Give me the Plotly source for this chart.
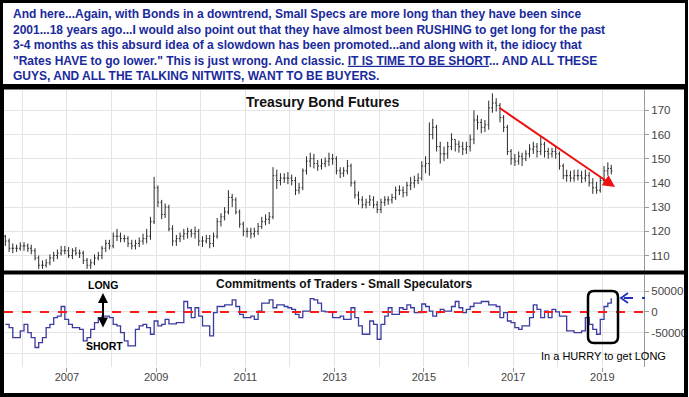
import pandas as pd
import plotly.graph_objects as go

W, H = 689, 397

# ---- data (monthly, Aug 2005 .. Mar 2019) ----
months = pd.date_range("2005-08-01", periods=164, freq="MS") + pd.Timedelta(days=14)

bond_open = [118,116,113,113,113,
    114,114,113,112,109,106,106,107,109,110,111,112,
    112,110,112,111,111,108,106,107,109,110,113,115,
    114,118,118,117,117,115,114,115,116,117,118,124,
    138,132,127,130,121,116,117,118,119,120,119,120,
    116,116,117,115,118,124,126,128,134,133,128,123,
    120,120,119,120,122,124,125,126,143,141,142,142,
    142,141,137,138,145,149,150,148,147,148,149,150,
    150,145,144,145,147,140,135,133,131,132,133,131,
    129,132,133,133,134,137,137,136,139,140,141,142,
    147,148,160,163,155,152,152,155,158,156,155,154,
    155,158,166,165,163,164,171,173,172,167,163,153,
    150,149,151,150,152,154,155,153,156,153,152,153,
    152,147,143,143,142,143,143,142,143,140,138,137,
    141,145,146]
bond_high = [118.5,117,115,114.5,115.5,
    115.5,115,114.5,113,110,108,108.5,110.5,111.5,112.5,114,114,
    113.5,113,113.5,112.5,112,109,108.5,110.5,111.5,114,116.5,116.5,
    119.5,121,119.5,118.5,118,116.5,116.5,117.5,119,121,126,142.5,
    139,133,131.5,131,122.5,118.5,119.5,121,121.5,121,122,121,
    118,118.5,118.5,119.5,125.5,127.5,130,137,135.5,134,129,124,
    121.5,121.5,121.5,123.5,126,127,128,146.5,145.5,144,144,144.5,
    143.5,142.5,140,146,151,152.5,152,149.5,150,150.5,152.5,152,
    151,146.5,146.5,149.5,148,141,136.5,134.5,133.5,135,134.5,132.5,
    133.5,134.5,134.5,135.5,138.5,139,138.5,140.5,142.5,143,144,149,
    151,165,166.5,164,157,155,157,160.5,158,157.5,157,157,
    160,170,168,166.5,166,174,177,175,173,168,164,154,
    152,153,152.5,153.5,156,157,156.5,159,157,154.5,154.5,155,
    153,148,145.5,145,145.5,145.5,145,145.5,144.5,142,140.5,142.5,
    147,148.5,147.5]
bond_low = [114,111.5,111,111.5,112,
    112,111.5,110.5,108,104.5,104.5,105,106,107.5,108.5,110,110.5,
    109,108.5,110,109,106.5,104.5,104.5,106,108,108.5,111.5,112.5,
    113,116,115.5,115.5,113.5,112.5,112.5,113.5,114.5,115,116.5,123,
    130,125,125.5,120,114,114,115.5,116.5,117,117.5,117,114,
    113.5,115,113,113.5,117,122,124.5,127,130,127,121.5,118,
    117.5,117,117.5,118.5,121,122.5,123,125,137.5,139,140,139.5,
    139,135,135.5,137,143.5,146.5,146,145,145.5,146.5,147,147.5,
    143.5,142,142.5,143.5,138.5,133.5,131,129.5,129.5,130.5,129.5,127.5,
    127.5,130.5,131,131.5,133,135,134,134.5,137,138,139.5,141,
    144,143,158,153,148,149,150,153.5,153,152.5,151.5,152,
    153,156,162,160.5,161,162,169,169.5,165,161,151.5,147.5,
    147,147.5,147,149,150.5,152,150.5,151.5,150.5,150,150.5,150,
    145.5,141.5,140.5,140.5,140.5,141,140,140.5,138.5,135.5,135.5,136,
    140,143,143.5]
bond_close = [116,113,113,113,114,
    114,113,112,109,106,106,107,109,110,111,112,112,
    110,112,111,111,108,106,107,109,110,113,115,114,
    118,118,117,117,115,114,115,116,117,118,124,138,
    132,127,130,121,116,117,118,119,120,119,120,116,
    116,117,115,118,124,126,128,134,133,128,123,120,
    120,119,120,122,124,125,126,143,141,142,142,142,
    141,137,138,145,149,150,148,147,148,149,150,150,
    145,144,145,147,140,135,133,131,132,133,131,129,
    132,133,133,134,137,137,136,139,140,141,142,147,
    148,160,163,155,152,152,155,158,156,155,154,155,
    158,166,165,163,164,171,173,172,167,163,153,150,
    149,151,150,152,154,155,153,156,153,152,153,152,
    147,143,143,142,143,143,142,143,140,138,137,141,
    145,146,145]

small_spec_net = [-30000,-38000,-62000,-62000,-46000,
    -30000,-50000,-62000,-86000,-74000,-62000,-38000,-30000,-14000,-10000,13000,-18000,
    -30000,-38000,-38000,-42000,-70000,-62000,-42000,-26000,-14000,-10000,-10000,-14000,
    -30000,-34000,-50000,-70000,-82000,-82000,-42000,-34000,-30000,-38000,-54000,-22000,
    -34000,-30000,-18000,-29000,-29000,-26000,-26000,25000,10000,-14000,10000,-10000,
    -34000,-34000,-58000,-2000,13000,13000,17000,17000,29000,13000,-6000,-14000,
    -14000,-10000,-18000,2000,21000,21000,29000,10000,17000,17000,13000,10000,
    6000,-6000,-14000,2000,2000,32000,29000,21000,2000,0,0,-14000,
    -14000,-10000,-18000,-18000,10000,-14000,-34000,-54000,-54000,-22000,-30000,-66000,
    -30000,-10000,10000,-6000,-6000,10000,6000,17000,10000,-2000,-2000,19000,
    13000,2000,-10000,-2000,6000,2000,2000,13000,25000,10000,-2000,6000,
    13000,21000,21000,25000,25000,17000,17000,13000,-14000,-2000,-22000,-26000,
    -38000,-42000,-34000,-34000,-14000,17000,6000,-14000,2000,-14000,6000,0,
    -10000,-10000,-46000,-46000,-50000,-50000,-46000,-14000,-30000,-42000,-54000,-18000,
    13000,21000,33000]

price_ticks = [110, 120, 130, 140, 150, 160, 170]
cot_ticks = [-100000, -50000, 0, 50000]
cot_ticktext = ["", "-50000", "0", "50000"]

comment_lines = [
    "And here...Again, with Bonds in a downtrend, Small Specs are more long than they have been since",
    "2001...18 years ago...I would also point out that they have almost been RUSHING to get long for the past",
    "3-4 months as this absurd idea of a slowdown has been promoted...and along with it, the idiocy that",
    "\"Rates HAVE to go lower.\" This is just wrong. And classic. <u>IT IS TIME TO BE SHORT</u>... AND ALL THESE",
    "GUYS, AND ALL THE TALKING NITWITS, WANT TO BE BUYERS.",
]

FONT = "Liberation Sans, Arial, sans-serif"
GRID = "#e4e4e4"


def px(x):
    return x / W


def py(y):
    return 1 - y / H


fig = go.Figure()
fig.add_trace(go.Ohlc(
    x=months, open=bond_open, high=bond_high, low=bond_low, close=bond_close,
    increasing=dict(line=dict(color="#2a2a2a", width=1)),
    decreasing=dict(line=dict(color="#2a2a2a", width=1)),
    tickwidth=0.35, xaxis="x", yaxis="y", showlegend=False, hoverinfo="skip"))
fig.add_trace(go.Scatter(
    x=months, y=small_spec_net, mode="lines",
    line=dict(shape="hv", color="#3a3aa0", width=1.3),
    xaxis="x2", yaxis="y2", showlegend=False, hoverinfo="skip"))

xr = ["2005-08-04", "2019-12-08"]
xdom = [px(4), px(644)]

fig.update_layout(
    width=W, height=H, margin=dict(l=0, r=0, t=0, b=0),
    paper_bgcolor="white", plot_bgcolor="white",
    font=dict(family=FONT, color="#333"),
    xaxis=dict(domain=xdom, range=xr, anchor="y", type="date",
               dtick="M12", tick0="2006-01-01", showticklabels=False,
               showgrid=True, gridcolor=GRID, gridwidth=1, ticks="",
               rangeslider=dict(visible=False), zeroline=False, showline=False),
    yaxis=dict(domain=[py(272), py(90)], range=[103.2, 178.4], side="right",
               tickvals=price_ticks, showgrid=True, gridcolor=GRID,
               showline=True, linecolor="#999", linewidth=1,
               ticks="outside", ticklen=4, tickcolor="#999",
               tickfont=dict(size=11.5, color="#444"), zeroline=False),
    xaxis2=dict(domain=xdom, range=xr, anchor="y2", type="date",
                dtick="M24", tick0="2007-01-01", tickformat="%Y",
                showgrid=True, gridcolor=GRID,
                minor=dict(dtick="M12", showgrid=True, gridcolor=GRID, ticks=""),
                ticks="outside", ticklen=4, tickcolor="#999",
                ticklabelstandoff=-4,
                tickfont=dict(size=11, color="#444"), showline=False, zeroline=False),
    yaxis2=dict(domain=[py(367), py(275)], range=[-133000, 89000], side="right",
                tickvals=cot_ticks, ticktext=cot_ticktext, showgrid=True,
                gridcolor=GRID, showline=True, linecolor="#999", linewidth=1,
                ticks="outside", ticklen=4, tickcolor="#999",
                tickfont=dict(size=11.5, color="#444"), zeroline=False),
)

shapes = []
# frames
shapes.append(dict(type="rect", xref="paper", yref="paper",
                   x0=px(1.5), x1=px(686.5), y0=py(85.5), y1=py(1.5),
                   line=dict(color="black", width=3)))
shapes.append(dict(type="rect", xref="paper", yref="paper",
                   x0=px(2), x1=px(686), y0=py(395), y1=py(87.5),
                   line=dict(color="black", width=4)))
shapes.append(dict(type="line", xref="paper", yref="paper",
                   x0=px(0), x1=px(686), y0=py(272.5), y1=py(272.5),
                   line=dict(color="black", width=4)))
# zero line on COT panel
shapes.append(dict(type="line", xref="paper", yref="y2", x0=px(4), x1=px(644),
                   y0=0, y1=0, line=dict(color="#ff1a1a", width=2, dash="dash")))
# rounded box around recent rush
bx0, bx1, by0, by1, r = 588, 618, 291, 343, 6
path = (f"M {px(bx0 + r)} {py(by0)} L {px(bx1 - r)} {py(by0)} "
        f"Q {px(bx1)} {py(by0)} {px(bx1)} {py(by0 + r)} "
        f"L {px(bx1)} {py(by1 - r)} Q {px(bx1)} {py(by1)} {px(bx1 - r)} {py(by1)} "
        f"L {px(bx0 + r)} {py(by1)} Q {px(bx0)} {py(by1)} {px(bx0)} {py(by1 - r)} "
        f"L {px(bx0)} {py(by0 + r)} Q {px(bx0)} {py(by0)} {px(bx0 + r)} {py(by0)} Z")
shapes.append(dict(type="path", xref="paper", yref="paper", path=path,
                   line=dict(color="black", width=2.5)))
# blue dashed pointer
shapes.append(dict(type="line", xref="paper", yref="paper",
                   x0=px(624), x1=px(645), y0=py(298), y1=py(298),
                   line=dict(color="#2030c0", width=1.8, dash="dash")))
shapes.append(dict(type="path", xref="paper", yref="paper",
                   path=f"M {px(628)} {py(293)} L {px(621)} {py(298)} L {px(628)} {py(303)}",
                   line=dict(color="#2030c0", width=1.8)))
fig.update_layout(shapes=shapes)


def label(x, y, text, size, color="black", xanchor="center"):
    return dict(xref="paper", yref="paper", x=px(x), y=py(y), xanchor=xanchor,
                yanchor="middle", showarrow=False, text=text,
                font=dict(family=FONT, size=size, color=color))


ann = []
ann.append(dict(xref="paper", yref="paper", x=px(11), y=py(5), xanchor="left",
                yanchor="top", align="left", showarrow=False,
                text="<b>" + "<br>".join(comment_lines) + "</b>",
                font=dict(family=FONT, size=12, color="#1a2a9c")))
ann.append(label(322, 102, "<b>Treasury Bond Futures</b>", 14, "#111"))
ann.append(label(344, 284, "<b>Commitments of Traders - Small Speculators</b>", 12, "#111"))
# red trend arrow
ann.append(dict(xref="x", yref="y", x="2019-04-15", y=138.3,
                axref="x", ayref="y", ax="2016-08-28", ay=171.5,
                showarrow=True, arrowhead=2, arrowsize=1.2, arrowwidth=2,
                arrowcolor="#ee1111", text=""))
# LONG / SHORT
ann.append(label(103, 285, "<b>LONG</b>", 10.5))
ann.append(label(105, 346, "<b>SHORT</b>", 10.5))
ann.append(dict(xref="paper", yref="paper", x=px(103), y=py(293), ax=0, ay=36,
                showarrow=True, arrowhead=2, arrowside="end+start", arrowsize=1,
                arrowwidth=2, arrowcolor="black", text=""))
ann.append(label(603, 356, "In a HURRY to get LONG", 11))
fig.update_layout(annotations=ann)

fig.write_html("out.html", include_plotlyjs=True,
               config={"displayModeBar": False},
               post_script="document.body.style.margin='0';document.body.style.padding='0';")
